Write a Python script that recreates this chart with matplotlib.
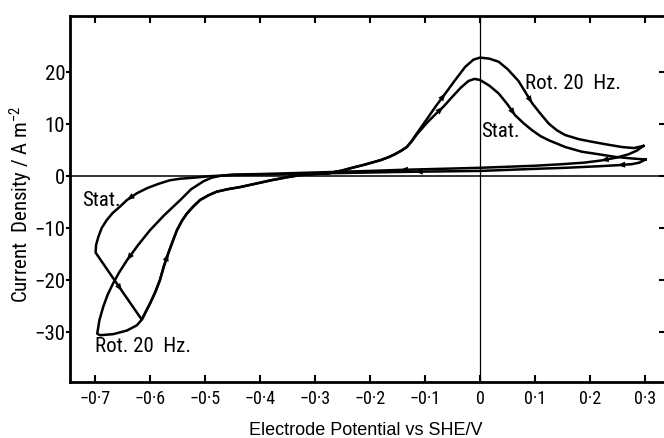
import matplotlib
matplotlib.use("Agg")
import matplotlib.pyplot as plt
from matplotlib import font_manager
import numpy as np


def pick_font(names, default="DejaVu Sans"):
    for n in names:
        try:
            font_manager.findfont(n, fallback_to_default=False)
            return n
        except Exception:
            pass
    return default


NARROW = pick_font(["Liberation Sans Narrow", "Roboto Condensed", "DejaVu Sans"])
PLAIN = pick_font(["Liberation Sans", "DejaVu Sans"])
plt.rcParams["font.family"] = [NARROW, "DejaVu Sans"]
plt.rcParams["mathtext.default"] = "regular"

# ---- data (E / V vs SHE, i / A m^-2) ----
# shared anodic-going branch after the nucleation loop
nuc_E = [-0.615, -0.600, -0.590, -0.582, -0.575, -0.567, -0.559, -0.551, -0.542,
         -0.533, -0.521, -0.509, -0.494, -0.479, -0.458, -0.436, -0.410, -0.380,
         -0.350, -0.327, -0.300, -0.273, -0.250, -0.236, -0.210, -0.180, -0.165,
         -0.155, -0.143, -0.133]
nuc_i = [-27.6, -24.5, -22.2, -20.0, -17.4, -14.9, -12.6, -10.4, -8.6,
         -7.2, -5.8, -4.6, -3.7, -3.0, -2.5, -2.1, -1.5, -0.8,
         -0.2, 0.2, 0.4, 0.6, 1.1, 1.5, 2.2, 3.1, 3.7,
         4.2, 4.9, 5.6]

# stationary electrode
stat_peak_E = [-0.133, -0.124, -0.115, -0.097, -0.080, -0.067, -0.050, -0.035, -0.021,
               -0.010, 0.000, 0.017, 0.034, 0.050, 0.064, 0.080, 0.095, 0.110, 0.125,
               0.155, 0.185, 0.216, 0.246, 0.276, 0.301]
stat_peak_i = [5.6, 6.7, 8.0, 10.2, 12.0, 13.3, 15.3, 17.0, 18.3,
               18.7, 18.5, 17.4, 15.9, 13.8, 11.7, 10.1, 8.8, 7.7, 6.9,
               5.6, 4.7, 4.2, 3.7, 3.4, 3.2]
stat_ret_E = [0.301, 0.290, 0.276, 0.250, 0.216, 0.155, 0.100, 0.000, -0.118, -0.200,
              -0.300, -0.400, -0.450, -0.490, -0.520, -0.545, -0.564, -0.585, -0.605,
              -0.624, -0.642, -0.655, -0.668, -0.679, -0.688, -0.694, -0.698, -0.699]
stat_ret_i = [3.2, 2.6, 2.3, 2.1, 1.9, 1.6, 1.4, 1.0, 0.85, 0.7,
              0.5, 0.3, 0.2, 0.0, -0.3, -0.5, -0.8, -1.5, -2.3,
              -3.3, -4.6, -5.9, -7.1, -8.5, -10.0, -11.7, -13.2, -14.7]
stat_cross_E = [-0.699, -0.651, -0.615]
stat_cross_i = [-14.7, -22.1, -27.6]

# rotating electrode, 20 Hz
rot_peak_E = [-0.133, -0.124, -0.115, -0.097, -0.080, -0.063, -0.045, -0.027, -0.012,
              0.000, 0.017, 0.034, 0.050, 0.070, 0.095, 0.110, 0.125, 0.140, 0.155,
              0.180, 0.204, 0.230, 0.258, 0.280, 0.297]
rot_peak_i = [5.6, 6.8, 8.2, 10.9, 13.5, 15.9, 18.5, 21.0, 22.4,
              22.8, 22.6, 22.0, 20.6, 18.3, 14.0, 12.0, 10.1, 8.8, 7.9,
              7.1, 6.6, 6.1, 5.6, 5.4, 5.8]
rot_ret_E = [0.297, 0.285, 0.270, 0.250, 0.220, 0.190, 0.150, 0.100, 0.000, -0.145,
             -0.200, -0.300, -0.400, -0.450, -0.470, -0.488, -0.503, -0.525, -0.545,
             -0.575, -0.600, -0.622, -0.642, -0.656, -0.667, -0.677, -0.685, -0.692,
             -0.696]
rot_ret_i = [5.8, 4.9, 4.2, 3.6, 3.0, 2.6, 2.3, 2.0, 1.6, 1.2,
             1.0, 0.7, 0.4, 0.3, 0.1, -0.3, -1.0, -2.5, -4.6,
             -7.6, -10.4, -13.3, -16.2, -18.5, -20.6, -22.8, -25.1, -27.7,
             -30.3]
rot_foot_E = [-0.696, -0.691, -0.667, -0.642, -0.624, -0.615]
rot_foot_i = [-30.3, -30.6, -30.4, -29.7, -28.7, -27.6]

x_ticks = [-0.7, -0.6, -0.5, -0.4, -0.3, -0.2, -0.1, 0.0, 0.1, 0.2, 0.3]
x_labels = ["\u22120\u00b77", "\u22120\u00b76", "\u22120\u00b75", "\u22120\u00b74",
            "\u22120\u00b73", "\u22120\u00b72", "\u22120\u00b71", "0",
            "0\u00b71", "0\u00b72", "0\u00b73"]
y_ticks = [20, 10, 0, -10, -20, -30]
y_labels = ["20", "10", "0", "\u221210", "\u221220", "\u221230"]

# arrowheads: (E, i) pairs on the curves where the sweep direction is marked
stat_arrows = [(-0.642, -4.6), (-0.651, -22.1), (-0.567, -14.9), (-0.067, 13.3),
               (0.064, 11.7), (0.250, 2.1), (-0.118, 0.85)]
rot_arrows = [(-0.642, -16.2), (-0.063, 15.9), (0.095, 14.0), (0.220, 3.0),
              (-0.145, 1.2)]

LW = 1.8


def curve(*parts):
    E = np.concatenate([np.asarray(p[0], float) for p in parts])
    i = np.concatenate([np.asarray(p[1], float) for p in parts])
    return E, i


def add_arrows(ax, E, i, marks):
    for (e0, i0) in marks:
        k = int(np.argmin((E - e0) ** 2 + ((i - i0) / 100.0) ** 2))
        k = max(k, 1)
        ax.annotate("", xy=(E[k], i[k]), xytext=(E[k - 1], i[k - 1]),
                    arrowprops=dict(arrowstyle="-|>,head_length=0.55,head_width=0.22",
                                    lw=0, color="k", shrinkA=0, shrinkB=0))


fig = plt.figure(figsize=(6.64, 4.38), dpi=100)
ax = fig.add_axes([70 / 664, 56 / 438, 595 / 664, 366 / 438])

stat_E, stat_i = curve((stat_ret_E, stat_ret_i), (stat_cross_E[1:], stat_cross_i[1:]),
                       (nuc_E[1:], nuc_i[1:]), (stat_peak_E[1:], stat_peak_i[1:]))
rot_E, rot_i = curve((rot_ret_E, rot_ret_i), (rot_foot_E[1:], rot_foot_i[1:]),
                     (nuc_E[1:], nuc_i[1:]), (rot_peak_E[1:], rot_peak_i[1:]))

ax.axhline(0, color="k", lw=1.1, zorder=1)
ax.axvline(0, color="k", lw=0.9, zorder=1)
ax.plot(stat_E, stat_i, color="k", lw=LW, solid_joinstyle="round")
ax.plot(rot_E, rot_i, color="k", lw=LW, solid_joinstyle="round")
add_arrows(ax, stat_E, stat_i, stat_arrows)
add_arrows(ax, rot_E, rot_i, rot_arrows)

ax.text(0.082, 17.9, "Rot. 20  Hz.", fontsize=15, ha="left", va="center")
ax.text(0.002, 8.6, "Stat.", fontsize=15, ha="left", va="center")
ax.text(-0.724, -4.6, "Stat.", fontsize=15, ha="left", va="center")
ax.text(-0.700, -32.8, "Rot. 20  Hz.", fontsize=15, ha="left", va="center")

ax.set_xlim(-0.7455, 0.3364)
ax.set_ylim(-39.6, 30.8)
ax.set_xticks(x_ticks)
ax.set_xticklabels(x_labels, fontsize=13)
ax.set_yticks(y_ticks)
ax.set_yticklabels(y_labels, fontsize=15)
ax.tick_params(axis="x", which="both", direction="in", top=True, length=5, width=1.5, pad=6)
ax.tick_params(axis="y", which="both", direction="out", length=3, width=1.5, pad=0.5)
for s in ax.spines.values():
    s.set_linewidth(2.0)

# inward ticks on the right edge, as on the original frame
rax = ax.twinx()
rax.set_ylim(ax.get_ylim())
rax.set_yticks(y_ticks)
rax.set_yticklabels([])
rax.tick_params(axis="y", direction="in", length=4, width=1.5)
for s in rax.spines.values():
    s.set_visible(False)

ax.set_xlabel("Electrode Potential vs SHE/V", fontsize=13, family=PLAIN)
ax.xaxis.set_label_coords((366 - 70) / 595, (382 - 422) / 366)
ax.set_ylabel("Current  Density / A m$^{-2}$", fontsize=15)
ax.yaxis.set_label_coords((35 - 70) / 595, (382 - 204) / 366)

fig.savefig("out.png", dpi=100)
